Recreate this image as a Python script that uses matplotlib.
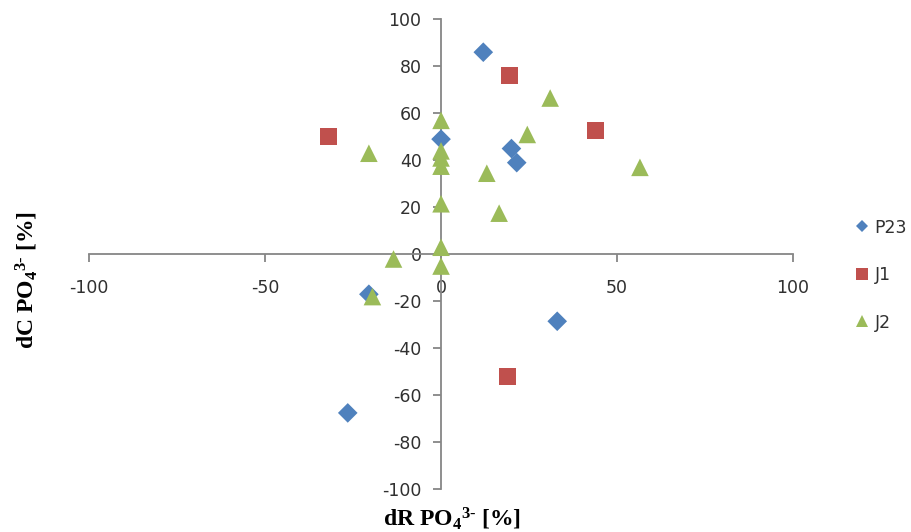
import matplotlib
matplotlib.use("Agg")
import matplotlib.pyplot as plt
from matplotlib.lines import Line2D

# Data
p23_x = [12, 0, 20, 21.5, -20.5, 33, -26.5]
p23_y = [86, 49, 45, 39, -17, -28.5, -67.5]

j1_x = [19.5, -32, 44, 19]
j1_y = [76, 50, 52.5, -52]

j2_x = [0, -20.5, 0, 0, 0, 31, 24.5, 13, 56.5, 0, 16.5, 0, -13.5, 0, -19.5]
j2_y = [57, 43, 44, 41, 37.5, 66.5, 51, 34.5, 37, 21.5, 17.5, 3, -2, -5, -18]

series_names = ["P23", "J1", "J2"]
colors = ["#4F81BD", "#C0504D", "#9BBB59"]
markers = ["D", "s", "^"]

plt.rcParams['axes.unicode_minus'] = False
plt.rcParams['mathtext.fontset'] = 'custom'
plt.rcParams['mathtext.rm'] = 'Liberation Serif:bold'
plt.rcParams['mathtext.it'] = 'Liberation Serif:bold'
plt.rcParams['mathtext.bf'] = 'Liberation Serif:bold'

fig = plt.figure(figsize=(9.12, 5.32), dpi=100)
ax = fig.add_axes([0.0976, 0.0803, 0.772, 0.8834])

sizes = [100, 150, 160]
data = [(p23_x, p23_y), (j1_x, j1_y), (j2_x, j2_y)]
for (xs, ys), c, m, s, n in zip(data, colors, markers, sizes, series_names):
    ax.scatter(xs, ys, marker=m, s=s, color=c, edgecolors='none', label=n, zorder=3)

ax.set_xlim(-100, 100)
ax.set_ylim(-100, 100)
ax.set_xticks([-100, -50, 0, 50, 100])
ax.set_yticks(list(range(-100, 101, 20)))

for side in ['top', 'right']:
    ax.spines[side].set_visible(False)
ax.spines['left'].set_position(('data', 0))
ax.spines['bottom'].set_position(('data', 0))
for side in ['left', 'bottom']:
    ax.spines[side].set_color('#868686')
    ax.spines[side].set_linewidth(1.3)

ax.tick_params(axis='both', direction='out', length=6, width=1.3, color='#868686',
               labelcolor='#303030', labelsize=12.5)
ax.tick_params(axis='x', pad=12)
ax.tick_params(axis='y', pad=8)
for lab in ax.get_xticklabels() + ax.get_yticklabels():
    lab.set_fontfamily('DejaVu Sans')

fig.text(0.496, 0.024, r'dR PO$_4$$^{3\text{-}}$ [%]', ha='center', va='center',
         fontfamily='Liberation Serif', fontweight='bold', fontsize=17)
fig.text(0.03, 0.474, r'dC PO$_4$$^{3\text{-}}$ [%]', ha='center', va='center', rotation=90,
         fontfamily='Liberation Serif', fontweight='bold', fontsize=17)

handles = [Line2D([], [], linestyle='none', marker=m, color=c, markersize=ms, markeredgewidth=0)
           for m, c, ms in zip(markers, colors, [6, 8, 8])]
fig.legend(handles, series_names, loc='center left', bbox_to_anchor=(0.94, 0.483),
           frameon=False, handlelength=0.6, handletextpad=0.4, labelspacing=1.7,
           prop={'family': 'DejaVu Sans', 'size': 12.5}, borderaxespad=0, borderpad=0)
for t in fig.legends[0].get_texts():
    t.set_color('#303030')

fig.savefig('out.png', dpi=100)
